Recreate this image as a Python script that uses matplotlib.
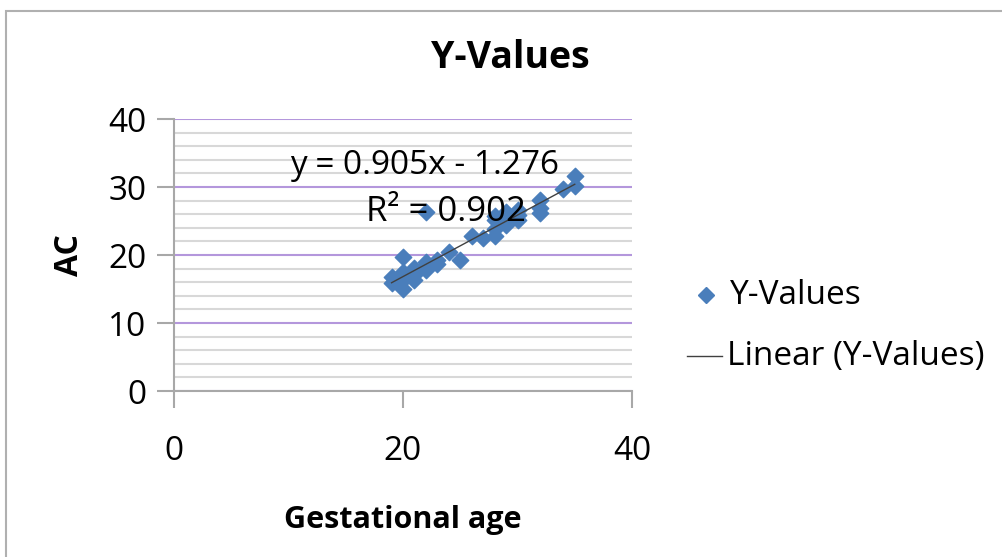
import matplotlib.pyplot as plt
import numpy as np
from matplotlib.patches import Rectangle

# gestational age (weeks) and AC values
age = [19, 19, 20, 20, 20, 20, 21, 21, 21, 22, 22, 22, 22, 23, 23, 24, 25,
       26, 27, 28, 28, 28, 28, 29, 29, 29, 30, 30, 30, 32, 32, 32, 34, 35, 35]
ac = [16.8, 15.9, 19.7, 15.0, 16.3, 17.5, 18.1, 16.3, 17.0, 26.3, 19.0, 17.8,
      18.5, 19.3, 18.7, 20.4, 19.3, 22.8, 22.5, 23.8, 22.8, 25.1, 25.7, 26.3,
      24.4, 25.4, 26.6, 25.1, 25.9, 28.1, 26.2, 26.9, 29.7, 31.6, 30.1]
slope = 0.905
intercept = -1.276
r2 = 0.902

plt.rcParams['font.family'] = ['Open Sans', 'DejaVu Sans']

fig = plt.figure(figsize=(10.03, 5.57), dpi=100)
W, H = 1003, 557

# chart frame
fig.patches.append(Rectangle((6 / W, -0.1), 1.2, 1 - 10.5 / H + 0.1,
                             transform=fig.transFigure, fill=False,
                             edgecolor='#b0b0b0', linewidth=1.5))

ax = fig.add_axes([174 / W, 1 - 391 / H, (632 - 174) / W, (391 - 119) / H])

blue = '#4a7ebb'
ax.scatter(age, ac, marker='D', s=70, color=blue, zorder=3)
xs = np.array([min(age), max(age)])
ax.plot(xs, slope * xs + intercept, color='#404040', linewidth=1, zorder=4)

ax.set_xlim(0, 40)
ax.set_ylim(0, 40)
ax.set_xticks([0, 20, 40])
ax.set_yticks([0, 10, 20, 30, 40])
ax.set_yticks(np.arange(0, 41, 2), minor=True)
ax.grid(True, which='minor', axis='y', color='#d8d8d8', linewidth=1.5, zorder=0)
ax.grid(True, which='major', axis='y', color='#b497dc', linewidth=1.5, zorder=1)
for s in ['top', 'right']:
    ax.spines[s].set_visible(False)
for s in ['left', 'bottom']:
    ax.spines[s].set_color('#a8a8a8')
    ax.spines[s].set_linewidth(1.5)
ax.tick_params(which='major', length=12, width=1.5, color='#a8a8a8',
               labelsize=24, pad=8)
ax.tick_params(which='minor', length=0)
ax.tick_params(axis='x', pad=20)
ax.set_axisbelow(True)

ax.set_ylabel('AC', fontsize=23, fontweight='bold', labelpad=16)
ax.set_xlabel('Gestational age', fontsize=22, fontweight='bold', labelpad=26)

fig.text(510 / W, 1 - 58 / H, 'Y-Values', fontsize=27, fontweight='bold',
         ha='center', va='center')

fig.text(425 / W, 1 - 165 / H, f'y = {slope}x - {abs(intercept)}', fontsize=24,
         ha='center', va='center')
fig.text(446 / W, 1 - 212 / H, f'R² = {r2}', fontsize=25,
         ha='center', va='center')

# legend
fig.lines.append(plt.Line2D([706 / W], [1 - 295 / H], marker='D', markersize=8,
                            color=blue, linestyle='none',
                            transform=fig.transFigure))
fig.text(730 / W, 1 - 295 / H, 'Y-Values', fontsize=24, va='center')
fig.lines.append(plt.Line2D([687 / W, 722 / W], [1 - 356 / H, 1 - 356 / H],
                            color='#404040', linewidth=1,
                            transform=fig.transFigure))
fig.text(727 / W, 1 - 356 / H, 'Linear (Y-Values)', fontsize=24, va='center')

plt.savefig('out.png', dpi=100)
